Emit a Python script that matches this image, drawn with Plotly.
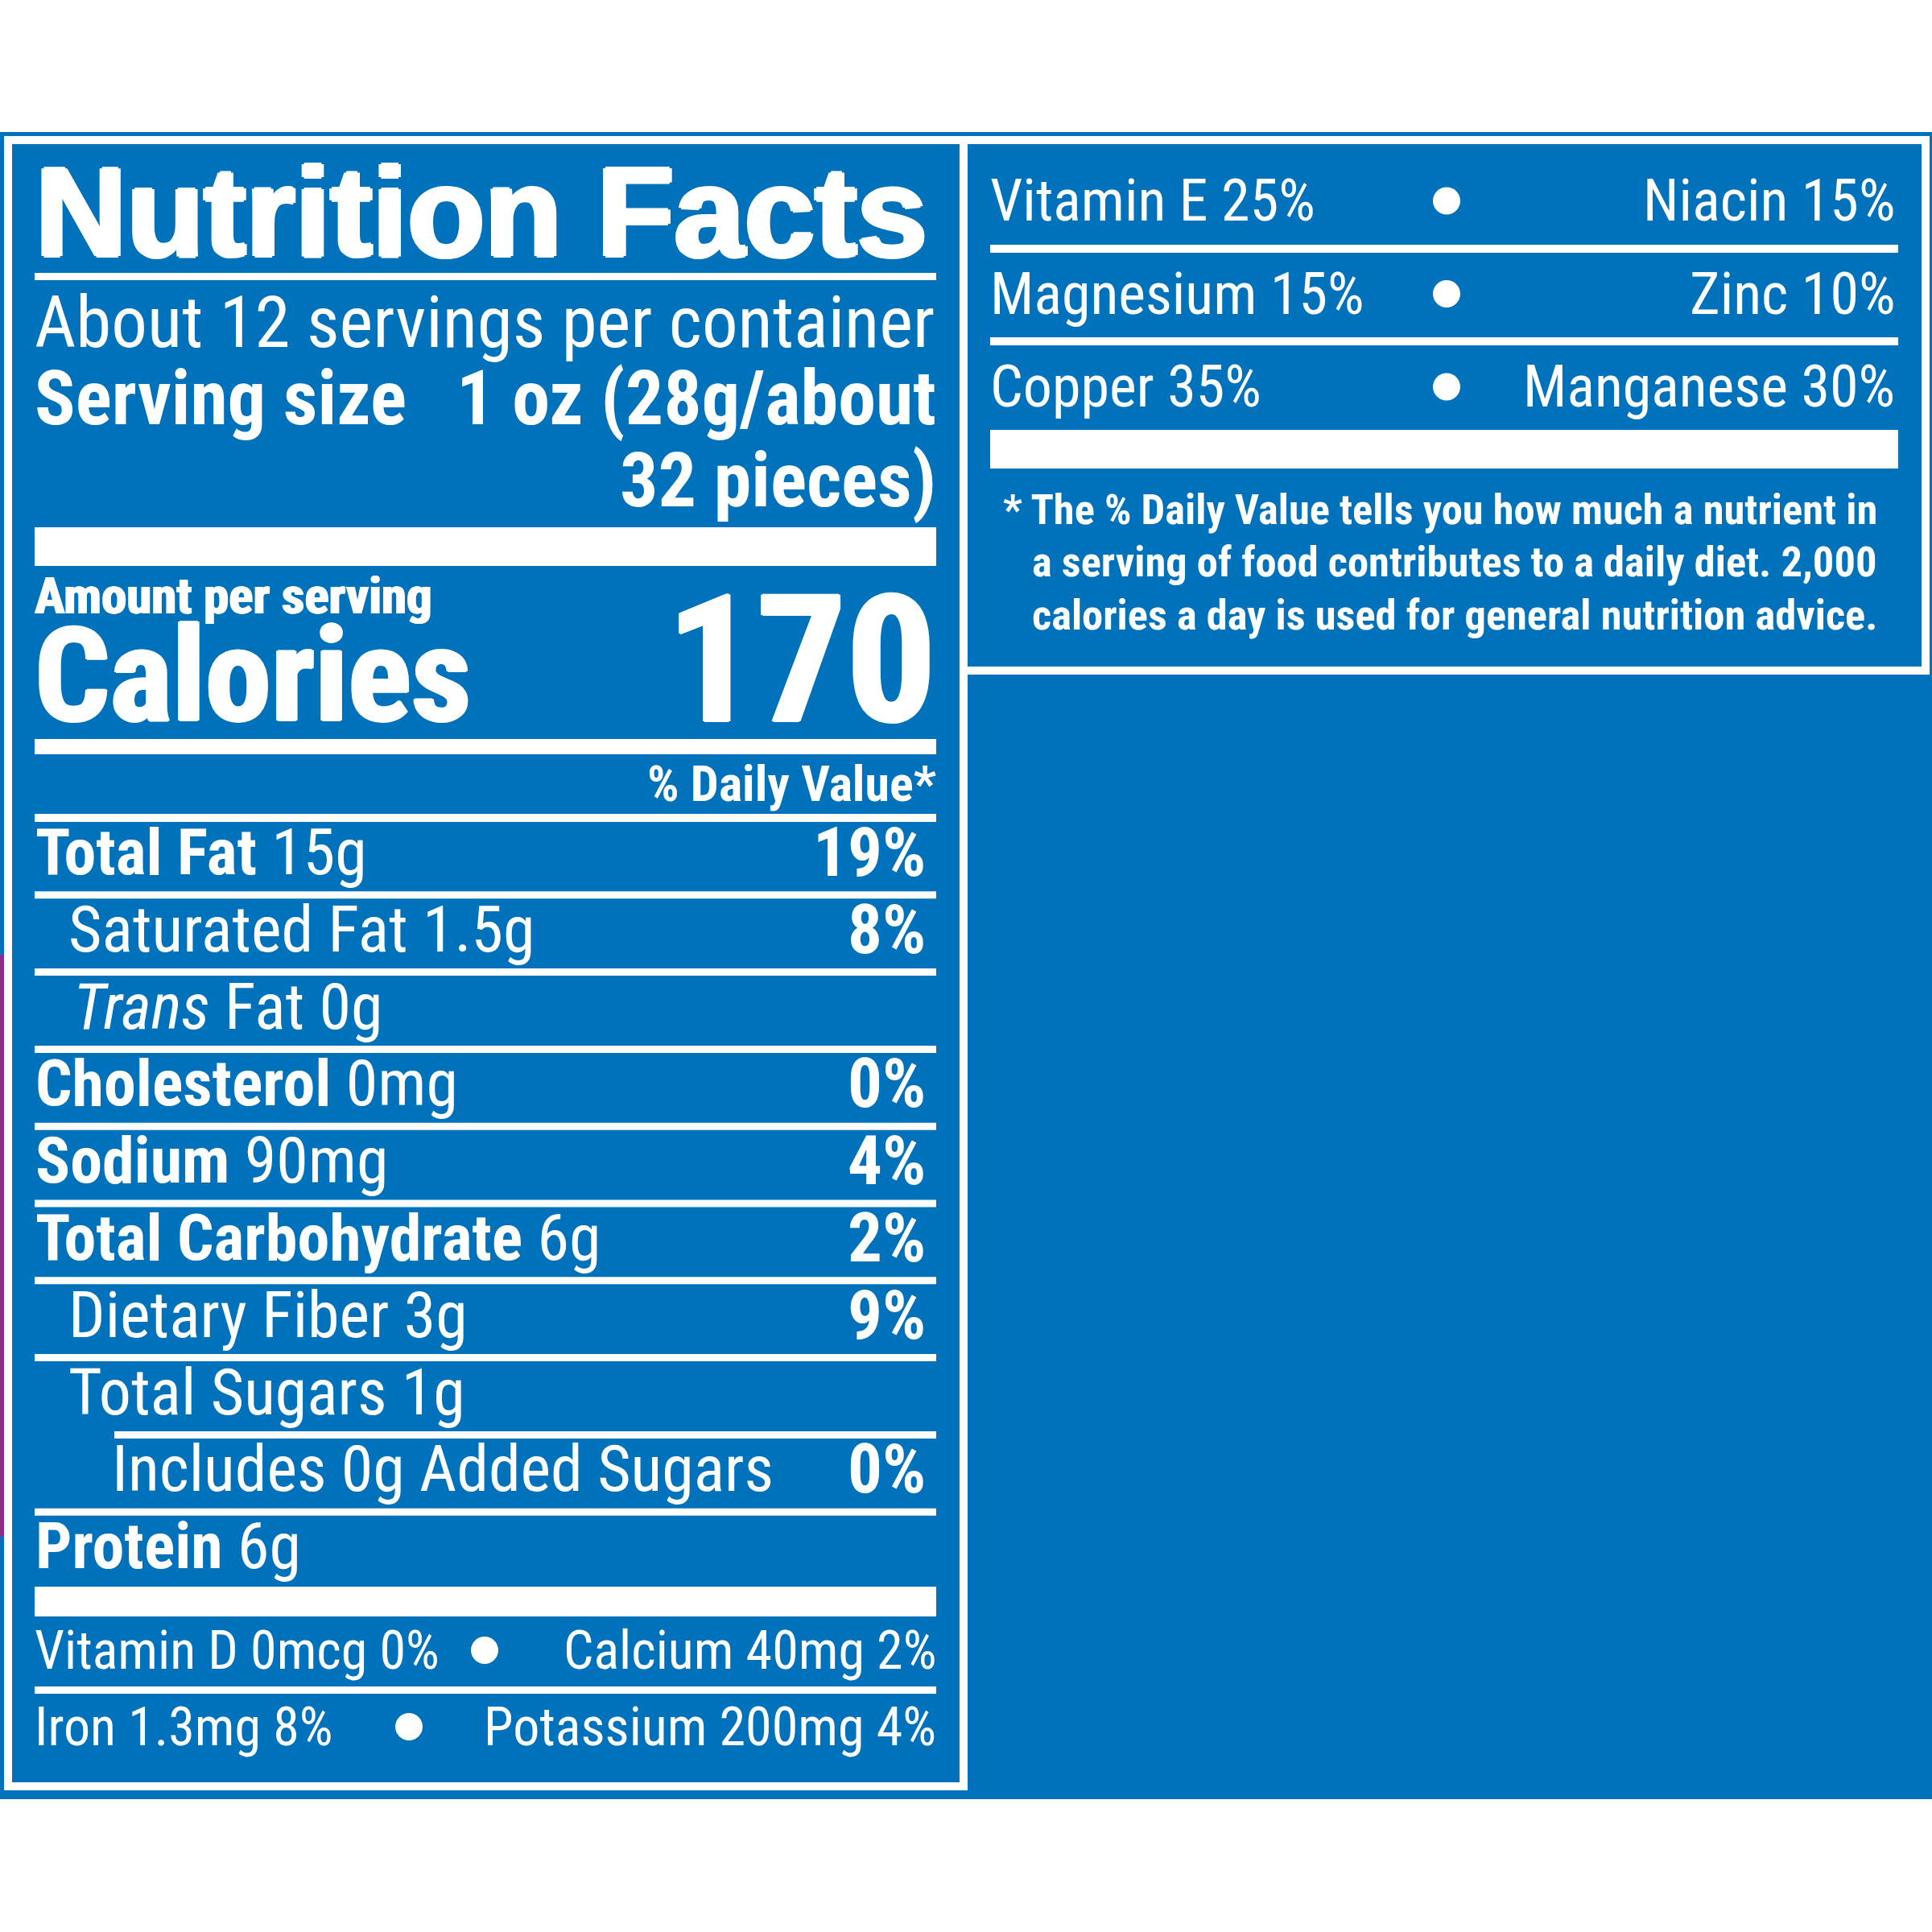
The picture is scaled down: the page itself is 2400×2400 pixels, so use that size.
import plotly.graph_objects as go

# ---- label content ----
TITLE = "Nutrition Facts"
SERVINGS_LINE = "About 12 servings per container"
SERVING_LABEL = "Serving size"
SERVING_SIZE = ["1 oz (28g/about", "32 pieces)"]
AMOUNT_LABEL = "Amount per serving"
CALORIES_LABEL = "Calories"
CALORIES = 170
DV_HEADER = "% Daily Value*"

NUTRIENTS = ["Total Fat", "Saturated Fat", "<i>Trans</i> Fat", "Cholesterol", "Sodium",
             "Total Carbohydrate", "Dietary Fiber", "Total Sugars",
             "Includes 0g Added Sugars", "Protein"]
AMOUNTS = ["15g", "1.5g", "0g", "0mg", "90mg", "6g", "3g", "1g", "", "6g"]
DAILY_VALUES = ["19%", "8%", "", "0%", "4%", "2%", "9%", "", "0%", ""]
LEVELS = [0, 1, 1, 0, 0, 0, 1, 1, 2, 0]

MINERALS_LEFT = ["Vitamin D 0mcg 0%", "Iron 1.3mg 8%"]
MINERALS_RIGHT = ["Calcium 40mg 2%", "Potassium 200mg 4%"]

VITAMINS_LEFT = ["Vitamin E 25%", "Magnesium 15%", "Copper 35%"]
VITAMINS_RIGHT = ["Niacin 15%", "Zinc 10%", "Manganese 30%"]

FOOTNOTE = ["* The % Daily Value tells you how much a nutrient in",
            "a serving of food contributes to a daily diet. 2,000",
            "calories a day is used for general nutrition advice."]

# ---- look ----
BLUE = "#0072BC"
WHITE = "#FFFFFF"
PURPLE = "#8E2C8E"
NARROW = "Roboto Condensed, DejaVu Sans Condensed, sans-serif"
WIDE = "Liberation Sans, Arial, sans-serif"
HEAVY = "2px 0px 0px #fff, -2px 0px 0px #fff, 0px 1px 0px #fff, 0px -1px 0px #fff"
LIGHT_HEAVY = "1px 0px 0px #fff, -1px 0px 0px #fff"

L0, L1 = 43, 1163          # left panel content edges
R0, R1 = 1230, 2358        # right panel content edges
ROW_TOP, ROW_H = 1016, 95.8
INDENT = {0: 44, 1: 85, 2: 139}
DV_RIGHT = 1150
ROW_SIZE, DV_SIZE = 80, 85

fig = go.Figure()
shapes = []
annotations = []


def box(x0, x1, y0, y1, color=WHITE, layer="above"):
    shapes.append(dict(type="rect", xref="x", yref="y", x0=x0, x1=x1, y0=y0, y1=y1,
                       fillcolor=color, line=dict(width=0), layer=layer))


def outline(x0, x1, y0, y1, w=10):
    shapes.append(dict(type="rect", xref="x", yref="y", x0=x0, x1=x1, y0=y0, y1=y1,
                       fillcolor="rgba(0,0,0,0)", line=dict(color=WHITE, width=w), layer="below"))


def text(x, y, s, size, anchor="left", family=NARROW, bold=False, shadow="none"):
    if bold:
        s = f"<b>{s}</b>"
    annotations.append(dict(x=x, y=y, xref="x", yref="y", text=s, showarrow=False,
                            xanchor=anchor, yanchor="middle", borderpad=0, borderwidth=0,
                            font=dict(family=family, size=size, color=WHITE, shadow=shadow)))


# background blocks
box(0, 2400, 164, 2235, BLUE, layer="below")
box(0, 5, 1186, 1909, PURPLE, layer="below")
outline(10, 1197, 174, 2219)
outline(1197, 2392, 174, 833)

# header
text(44, 263, TITLE, 157, family=WIDE, bold=True,
     shadow="3px 0px 0px #fff, -3px 0px 0px #fff, 0px 2px 0px #fff, 0px -2px 0px #fff")
box(L0, L1, 339, 348)
text(L0, 400, SERVINGS_LINE, 89)
text(L0, 495, SERVING_LABEL, 94, bold=True)
text(L1, 495, SERVING_SIZE[0], 94, anchor="right", bold=True)
text(L1, 597, SERVING_SIZE[1], 94, anchor="right", bold=True)
box(L0, L1, 655, 703)
text(L0, 740, AMOUNT_LABEL, 63, bold=True, shadow=LIGHT_HEAVY)
text(L0, 839, CALORIES_LABEL, 164, bold=True, shadow=HEAVY)
text(L1, 820, str(CALORIES), 221, anchor="right", bold=True, shadow=HEAVY)
box(L0, L1, 918, 937)
text(L1, 973, DV_HEADER, 62, anchor="right", bold=True)
box(L0, L1, 1011, 1021)

# nutrient rows
for i, (name, amt, dv, lvl) in enumerate(zip(NUTRIENTS, AMOUNTS, DAILY_VALUES, LEVELS)):
    yc = ROW_TOP + ROW_H * i + 43
    label = f"<b>{name}</b>" if lvl == 0 else name
    if amt:
        label += " " + amt
    x = INDENT[lvl] + (6 if name.startswith("<i>") else 0)
    text(x, yc, label, ROW_SIZE)
    if dv:
        text(DV_RIGHT, yc, dv, DV_SIZE, anchor="right", bold=True)
    if i < len(NUTRIENTS) - 1:
        yr = ROW_TOP + ROW_H * (i + 1)
        x0 = INDENT[2] + 3 if LEVELS[i + 1] == 2 else L0
        box(x0, L1, yr - 4.5, yr + 4.5)

box(L0, L1, 1971, 2008)

# minerals
bullet_x, bullet_y = [], []
for j, (a, b) in enumerate(zip(MINERALS_LEFT, MINERALS_RIGHT)):
    yc = 2050 + 95 * j
    text(L0, yc, a, 66)
    text(L1, yc, b, 66, anchor="right")
    bullet_y.append(yc)
bullet_x += [602, 508]
box(L0, L1, 2095, 2104)

# right panel
for j, (a, b) in enumerate(zip(VITAMINS_LEFT, VITAMINS_RIGHT)):
    yc = 249.5 + 115.5 * j
    text(R0, yc, a, 72)
    text(2354, yc, b, 72, anchor="right")
    bullet_x.append(1797)
    bullet_y.append(yc)
    if j < len(VITAMINS_LEFT) - 1:
        yr = 309 + 115 * j
        box(R0, R1, yr - 5, yr + 5)
box(R0, R1, 534, 582)

for k, line in enumerate(FOOTNOTE):
    text(1246 if k == 0 else 1282, 632.5 + 65.5 * k, line, 52.5, bold=True)

fig.add_trace(go.Scatter(x=bullet_x, y=bullet_y, mode="markers", hoverinfo="skip",
                         marker=dict(size=34, color=WHITE, symbol="circle", line=dict(width=0)),
                         showlegend=False))

fig.update_layout(
    width=2400, height=2400,
    margin=dict(l=0, r=0, t=0, b=0),
    paper_bgcolor=WHITE, plot_bgcolor=WHITE,
    xaxis=dict(range=[0, 2400], visible=False, fixedrange=True),
    yaxis=dict(range=[2400, 0], visible=False, fixedrange=True),
    shapes=shapes, annotations=annotations,
    showlegend=False,
)

# drop the browser's default body margin so the label sits flush with the page
fig.write_html("out.html", config={"displayModeBar": False},
               post_script="document.body.style.margin = '0';")
